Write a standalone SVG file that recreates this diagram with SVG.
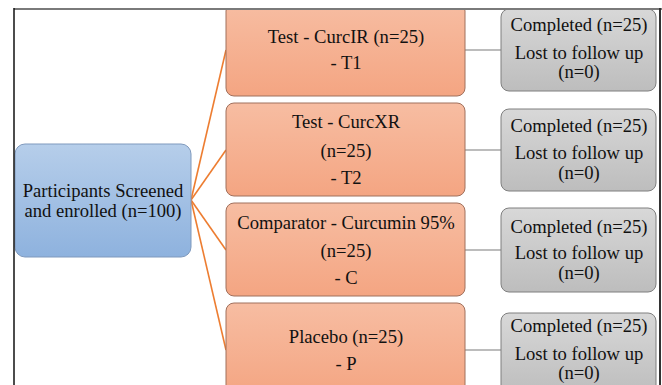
<svg xmlns="http://www.w3.org/2000/svg" width="662" height="385" viewBox="0 0 662 385">
<defs>
<linearGradient id="gBlue" x1="0" y1="0" x2="0" y2="1"><stop offset="0" stop-color="#B6CEEA"/><stop offset="1" stop-color="#8EB2DE"/></linearGradient>
<linearGradient id="gOr" x1="0" y1="0" x2="0" y2="1"><stop offset="0" stop-color="#F7BDA2"/><stop offset="1" stop-color="#F4A582"/></linearGradient>
<linearGradient id="gGr" x1="0" y1="0" x2="0" y2="1"><stop offset="0" stop-color="#D8D8D8"/><stop offset="1" stop-color="#BDBDBD"/></linearGradient>
<clipPath id="clip"><rect x="0" y="10" width="662" height="375"/></clipPath>
</defs>
<style>
.t{font-family:'Liberation Serif','Times New Roman',serif;font-size:18.6px;fill:#111;text-anchor:middle}
.blue{fill:url(#gBlue);stroke:#7F99BD;stroke-width:1}
.or{fill:url(#gOr);stroke:#A0705C;stroke-width:1}
.gr{fill:url(#gGr);stroke:#7F7F7F;stroke-width:1}
.ol{stroke:#ED7D31;stroke-width:1.6;fill:none}
.gl{stroke:#A6A6A6;stroke-width:1.6;fill:none}
</style>
<rect width="662" height="385" fill="#fff"/>
<g clip-path="url(#clip)">
<g id="connectors">
<line class="ol" x1="191" y1="200" x2="226" y2="50"/>
<line class="ol" x1="191" y1="200" x2="226" y2="150"/>
<line class="ol" x1="191" y1="200" x2="226" y2="250"/>
<line class="ol" x1="191" y1="200" x2="226" y2="350"/>
<line class="gl" x1="465" y1="50" x2="501" y2="50"/>
<line class="gl" x1="465" y1="150" x2="501" y2="150"/>
<line class="gl" x1="465" y1="250" x2="501" y2="250"/>
<line class="gl" x1="465" y1="350" x2="501" y2="350"/>
</g>
<g id="root">
<rect class="blue" x="15" y="144" width="176" height="113" rx="10"/>
<text class="t" x="103" y="197">Participants Screened</text>
<text class="t" x="103" y="217">and enrolled (n=100)</text>
</g>
<g id="t1">
<rect class="or" x="226" y="3" width="239" height="93" rx="8"/>
<text class="t" x="346" y="43">Test - CurcIR (n=25)</text>
<text class="t" x="346" y="69">- T1</text>
</g>
<g id="t2">
<rect class="or" x="226" y="103" width="239" height="93" rx="8"/>
<text class="t" x="346" y="128">Test - CurcXR</text>
<text class="t" x="346" y="157">(n=25)</text>
<text class="t" x="346" y="184">- T2</text>
</g>
<g id="c">
<rect class="or" x="226" y="203" width="239" height="93" rx="8"/>
<text class="t" x="346" y="229">Comparator - Curcumin 95%</text>
<text class="t" x="346" y="257">(n=25)</text>
<text class="t" x="346" y="284">- C</text>
</g>
<g id="p">
<rect class="or" x="226" y="303" width="239" height="93" rx="8"/>
<text class="t" x="346" y="343">Placebo (n=25)</text>
<text class="t" x="346" y="370">- P</text>
</g>
<g id="g1">
<rect class="gr" x="501" y="9" width="155" height="82" rx="8"/>
<text class="t" x="579" y="31">Completed (n=25)</text>
<text class="t" x="579" y="59">Lost to follow up</text>
<text class="t" x="579" y="78">(n=0)</text>
</g>
<g id="g2">
<rect class="gr" x="501" y="109" width="155" height="82" rx="8"/>
<text class="t" x="579" y="132">Completed (n=25)</text>
<text class="t" x="579" y="159">Lost to follow up</text>
<text class="t" x="579" y="179">(n=0)</text>
</g>
<g id="g3">
<rect class="gr" x="501" y="208" width="155" height="84" rx="8"/>
<text class="t" x="579" y="233">Completed (n=25)</text>
<text class="t" x="579" y="259">Lost to follow up</text>
<text class="t" x="579" y="279">(n=0)</text>
</g>
<g id="g4">
<rect class="gr" x="501" y="313" width="155" height="82" rx="8"/>
<text class="t" x="579" y="332">Completed (n=25)</text>
<text class="t" x="579" y="360">Lost to follow up</text>
<text class="t" x="579" y="379">(n=0)</text>
</g>
</g>
<g id="frame">
<line x1="14" y1="9" x2="662" y2="9" stroke="#7A7A7A" stroke-width="2"/>
<line x1="14" y1="8" x2="14" y2="385" stroke="#111" stroke-width="1.5"/>
<line x1="660" y1="8" x2="660" y2="385" stroke="#333" stroke-width="2"/>
</g>
</svg>
